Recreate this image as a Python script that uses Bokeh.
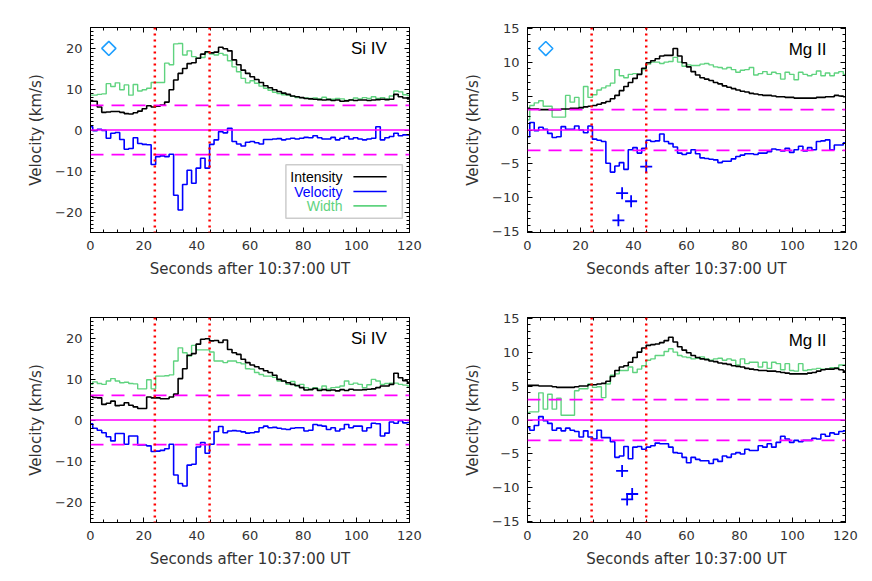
from bokeh.plotting import figure
from bokeh.layouts import gridplot
from bokeh.models import Span, Label, BoxAnnotation, LinearAxis, Range1d, FixedTicker
from bokeh.embed import file_html
from bokeh.resources import INLINE

# ---------------- data ----------------
t = [0.00, 1.69, 3.38, 5.07, 6.76, 8.45, 10.14, 11.83, 13.52, 15.21, 16.90, 18.59,
     20.28, 21.97, 23.66, 25.35, 27.04, 28.73, 30.42, 32.11, 33.80, 35.49, 37.18, 38.87,
     40.56, 42.25, 43.94, 45.63, 47.32, 49.01, 50.70, 52.39, 54.08, 55.77, 57.46, 59.15,
     60.85, 62.54, 64.23, 65.92, 67.61, 69.30, 70.99, 72.68, 74.37, 76.06, 77.75, 79.44,
     81.13, 82.82, 84.51, 86.20, 87.89, 89.58, 91.27, 92.96, 94.65, 96.34, 98.03, 99.72,
     101.41, 103.10, 104.79, 106.48, 108.17, 109.86, 111.55, 113.24, 114.93, 116.62, 118.31, 120.00]

# top-left: Si IV
si1_int = [7.2, 7.0, 5.6, 4.3, 4.4, 4.5, 4.5, 4.3, 4.0, 3.9, 4.2, 4.6, 5.2, 5.9, 5.6, 5.8, 6.1, 6.8,
           9.8, 12.2, 13.8, 15.0, 16.2, 16.4, 17.5, 18.5, 19.1, 18.8, 19.0, 20.2, 19.8, 19.3, 17.1, 15.9, 14.6, 13.8,
           13.0, 12.3, 11.6, 10.8, 10.3, 9.8, 9.4, 9.0, 8.7, 8.3, 8.1, 7.9, 7.7, 7.6, 7.5, 7.4, 7.3, 7.4,
           7.2, 7.3, 7.0, 7.1, 7.3, 7.2, 7.3, 7.3, 7.2, 7.3, 7.4, 7.5, 7.4, 7.5, 8.7, 8.1, 7.8, 7.6]
si1_vel = [0.8, -0.2, 0.2, -0.1, -2.0, -0.8, -0.6, -2.3, -4.7, -4.5, -1.9, -3.3, -3.5, -3.6, -8.4, -6.5, -6.3, -6.5,
           -5.9, -15.9, -19.5, -13.3, -9.8, -13.0, -9.3, -6.9, -9.3, -3.5, -2.4, -0.4, -0.7, 0.4, -2.8, -3.4, -3.9, -3.0,
           -2.8, -3.1, -3.4, -2.3, -2.3, -2.2, -2.1, -2.4, -2.2, -2.0, -2.2, -2.0, -1.8, -1.9, -1.4, -1.9, -2.2, -2.2,
           -1.8, -2.4, -2.0, -1.6, -2.2, -1.9, -2.2, -2.4, -2.2, -2.0, 0.8, -2.4, -1.9, -1.6, -0.8, -1.4, -1.2, -1.2]
si1_wid = [8.5, 8.5, 8.7, 8.8, 11.3, 10.6, 11.5, 9.8, 11.0, 8.5, 11.1, 9.5, 9.8, 10.2, 11.6, 11.6, 11.6, 16.3,
           15.9, 21.0, 21.1, 18.3, 19.3, 17.9, 17.5, 17.7, 18.9, 18.5, 18.3, 18.7, 18.3, 16.9, 15.4, 14.2, 12.6, 11.5,
           12.0, 11.4, 10.7, 10.2, 9.7, 9.2, 8.9, 8.6, 8.5, 8.2, 7.9, 7.9, 7.8, 7.7, 7.8, 7.6, 8.0, 7.6,
           7.5, 7.7, 7.6, 7.2, 7.4, 7.8, 7.6, 7.9, 7.7, 8.1, 7.7, 7.9, 7.6, 8.3, 9.5, 9.3, 8.6, 8.4]

# top-right: Mg II
mg1_int = [3.2, 3.1, 3.1, 3.0, 3.0, 3.0, 3.0, 3.0, 3.1, 3.1, 3.2, 3.2, 3.3, 3.4, 3.5, 3.6, 3.8, 4.0,
           4.2, 4.6, 5.1, 5.8, 6.4, 7.0, 7.6, 8.2, 9.1, 9.9, 10.2, 10.5, 10.9, 11.0, 11.0, 12.0, 10.9, 9.9,
           9.3, 8.6, 8.1, 7.7, 7.5, 7.3, 7.0, 6.8, 6.5, 6.3, 6.1, 5.9, 5.7, 5.6, 5.4, 5.3, 5.2, 5.1,
           5.1, 5.0, 4.9, 4.9, 4.8, 4.8, 4.7, 4.7, 4.7, 4.7, 4.7, 4.8, 4.8, 4.9, 4.9, 5.1, 5.0, 4.9]
mg1_vel = [-1.0, 1.1, -0.1, 0.4, 0.1, -0.5, -1.1, -1.0, 0.5, 0.1, 0.1, 0.6, 0.0, -0.4, 0.6, -1.35, -1.5, -1.7,
           -4.9, -6.2, -5.3, -4.8, -5.8, -2.9, -2.6, -3.4, -2.7, -1.5, -1.7, -1.6, -0.6, -1.7, -2.0, -2.5, -3.4, -3.6,
           -3.4, -2.9, -3.5, -4.1, -4.2, -4.3, -4.4, -4.8, -4.6, -4.6, -4.25, -3.9, -3.7, -3.5, -3.5, -3.6, -3.4, -3.4,
           -3.2, -2.8, -2.9, -3.1, -2.7, -3.3, -2.9, -2.4, -3.1, -2.6, -2.9, -1.7, -1.6, -1.45, -2.9, -2.2, -2.2, -1.9]
mg1_wid = [1.5, 3.6, 4.0, 4.3, 3.5, 3.5, 1.9, 1.9, 1.9, 5.1, 4.1, 4.8, 3.2, 6.4, 4.8, 5.2, 5.9, 6.2,
           6.5, 6.9, 8.9, 8.0, 7.7, 8.2, 8.3, 8.2, 8.9, 9.7, 10.0, 10.0, 9.8, 10.0, 10.1, 10.7, 10.0, 9.4,
           9.6, 9.5, 9.5, 9.7, 9.8, 9.6, 9.3, 9.2, 9.0, 9.2, 8.9, 8.5, 8.8, 8.9, 9.2, 8.1, 8.3, 8.6,
           8.2, 8.5, 8.3, 7.5, 8.5, 8.2, 7.4, 8.5, 8.2, 8.0, 8.2, 8.7, 8.0, 8.4, 8.0, 8.4, 8.6, 8.2]
mg1_plus_t = [34.3, 35.7, 39.1, 44.8]
mg1_plus_v = [-13.3, -9.3, -10.5, -5.4]

# bottom-left: Si IV
si2_int = [5.8, 5.5, 5.4, 3.8, 4.1, 4.6, 3.5, 3.6, 4.2, 3.6, 3.2, 2.8, 2.8, 5.6, 5.4, 5.4, 5.2, 5.2,
           5.6, 6.3, 10.1, 12.5, 15.8, 16.2, 18.5, 19.7, 19.8, 19.3, 19.4, 18.9, 19.5, 17.2, 16.4, 16.0, 14.8, 14.0,
           13.4, 13.0, 12.5, 12.0, 11.6, 10.9, 9.9, 9.5, 9.1, 8.7, 8.4, 7.9, 7.3, 7.4, 7.7, 7.2, 7.4, 7.2,
           7.3, 7.1, 7.4, 7.2, 7.5, 7.3, 7.3, 7.4, 7.5, 7.6, 7.9, 8.3, 8.3, 8.7, 11.4, 10.3, 9.6, 9.2]
si2_vel = [-0.9, -2.0, -2.5, -3.1, -4.1, -5.1, -3.3, -3.3, -5.9, -3.9, -3.9, -6.1, -6.1, -6.3, -7.7, -7.6, -7.4, -7.0,
           -5.9, -13.4, -15.5, -16.1, -11.0, -10.8, -6.6, -5.5, -8.1, -5.9, -2.8, -1.6, -3.1, -2.7, -2.6, -2.7, -2.9, -3.2,
           -3.1, -2.9, -1.9, -1.5, -1.9, -1.8, -2.0, -2.2, -2.3, -2.0, -1.9, -1.9, -2.7, -2.5, -1.1, -1.3, -1.5, -2.3,
           -1.9, -2.7, -2.2, -1.1, -1.9, -1.5, -1.5, -2.7, -1.9, -0.8, -0.9, -3.9, -3.2, -0.5, -0.8, -0.2, -0.7, -0.6]
si2_wid = [8.7, 9.3, 8.9, 8.7, 9.5, 10.1, 9.5, 9.1, 9.2, 8.9, 8.8, 7.6, 7.6, 9.8, 7.6, 10.7, 10.7, 10.8,
           11.0, 14.4, 17.6, 16.4, 15.6, 18.2, 17.1, 17.1, 17.1, 16.6, 14.4, 14.4, 14.0, 14.4, 14.4, 14.0, 13.7, 12.5,
           12.4, 11.6, 11.1, 10.7, 10.7, 10.4, 9.5, 9.5, 8.7, 9.4, 8.3, 8.7, 7.9, 7.5, 7.9, 7.5, 8.3, 7.5,
           7.9, 8.0, 8.3, 9.5, 8.7, 9.0, 8.7, 7.9, 8.6, 9.9, 9.5, 8.7, 8.9, 9.0, 9.0, 8.7, 8.5, 8.3]

# bottom-right: Mg II
mg2_int = [5.1, 5.1, 5.1, 5.0, 5.0, 5.0, 4.9, 4.8, 4.8, 4.8, 4.8, 4.9, 5.0, 5.0, 5.2, 5.2, 5.3, 5.4,
           5.7, 6.4, 7.3, 7.8, 8.0, 8.5, 9.2, 10.0, 10.6, 11.0, 11.1, 11.2, 11.4, 11.7, 12.2, 11.5, 10.8, 10.3,
           9.9, 9.5, 9.2, 9.0, 8.9, 8.7, 8.6, 8.4, 8.3, 8.2, 8.0, 7.9, 7.8, 7.6, 7.5, 7.4, 7.3, 7.3,
           7.2, 7.2, 7.1, 7.0, 6.9, 6.8, 6.8, 6.8, 6.8, 6.9, 7.0, 7.2, 7.4, 7.5, 7.5, 7.6, 7.4, 7.2]
mg2_vel = [-1.1, -1.5, -0.8, 0.5, -0.1, -0.5, -1.5, -1.2, -1.6, -1.2, -1.5, -1.7, -2.5, -1.6, -2.5, -2.8, -1.5, -2.6,
           -2.6, -3.2, -5.5, -5.3, -3.9, -5.7, -4.0, -3.9, -4.3, -4.0, -3.8, -3.4, -3.5, -3.5, -4.0, -4.8, -4.9, -5.5,
           -6.3, -5.5, -5.8, -6.0, -6.0, -6.4, -5.8, -6.1, -5.3, -5.5, -5.0, -4.8, -5.0, -4.3, -4.5, -4.5, -3.8, -4.0,
           -3.5, -4.0, -3.3, -2.4, -2.8, -3.3, -3.0, -3.2, -3.0, -3.0, -2.7, -2.8, -2.1, -2.4, -1.9, -2.1, -1.7, -1.6]
mg2_wid = [1.1, 1.2, 1.2, 4.0, 1.6, 3.8, 1.6, 3.2, 0.7, 0.7, 0.7, 4.3, 4.6, 4.6, 5.3, 4.8, 4.9, 3.3,
           5.3, 6.6, 6.8, 7.3, 7.3, 7.8, 7.0, 7.5, 8.0, 8.8, 9.0, 9.5, 9.5, 10.1, 10.5, 10.0, 9.5, 9.3,
           9.2, 9.0, 9.1, 9.3, 9.0, 8.8, 9.0, 9.1, 8.8, 9.0, 8.8, 8.1, 9.0, 8.3, 8.5, 8.5, 7.8, 8.5,
           7.6, 8.5, 8.3, 7.4, 8.3, 7.3, 7.2, 8.3, 7.3, 7.4, 7.5, 7.6, 7.5, 7.5, 7.7, 7.7, 8.1, 8.1]
mg2_plus_t = [35.7, 37.6, 39.5]
mg2_plus_v = [-7.5, -11.7, -10.9]

event_t = [24.2, 44.8]           # red dotted verticals
si_band = 6.0                     # dashed levels
mg_band = 3.0
marker_t, si_marker_v, mg_marker_v = 6.9, 19.9, 12.0

x_ticks = [0, 20, 40, 60, 80, 100, 120]
x_minor = list(range(0, 121, 5))
si_ticks = [-20, -10, 0, 10, 20]
si_minor = list(range(-25, 26, 1))
mg_ticks = [-15, -10, -5, 0, 5, 10, 15]
mg_minor = list(range(-15, 16, 1))

x_title = "Seconds after 10:37:00 UT"
y_title = "Velocity (km/s)"

# ---------------- style ----------------
FONT = "DejaVu Sans"
FONT2 = "Liberation Sans"
TXT = "#333333"
C_INT, C_VEL, C_WID = "#000000", "#0000ff", "#5fd37f"
MAG, RED, CYAN = "#ff00ff", "#ff0000", "#1e9fff"


def lab(tk):
    return ("\u2212" + str(abs(tk))) if tk < 0 else str(tk)


def style_axis(ax, ticks, minor, labels, title=None):
    ax.ticker = FixedTicker(ticks=ticks, minor_ticks=minor)
    ax.axis_line_color = "black"
    ax.axis_line_width = 1
    ax.major_tick_line_color = "black"
    ax.minor_tick_line_color = "black"
    ax.major_tick_in = 5
    ax.major_tick_out = 0
    ax.minor_tick_in = 3
    ax.minor_tick_out = 0
    if labels:
        ax.major_label_overrides = {tk: lab(tk) for tk in ticks}
        ax.major_label_text_font = FONT
        ax.major_label_text_font_size = "13px"
        ax.major_label_text_color = TXT
        ax.major_label_standoff = 8
    else:
        ax.major_label_overrides = {tk: "" for tk in ticks}
        ax.major_label_text_font_size = "1px"
        ax.major_label_standoff = 0
    if title:
        ax.axis_label = title
        ax.axis_label_text_font = FONT
        ax.axis_label_text_font_size = "15px"
        ax.axis_label_text_font_style = "normal"
        ax.axis_label_text_color = TXT
        ax.axis_label_standoff = 7


def panel(i_v, v_v, w_v, yr, yt, ym, band, title, title_x, title_y, fw, borders,
          marker_v=None, plus=None, legend=False):
    bl, br, bt, bb = borders
    p = figure(frame_width=fw, frame_height=205, x_range=Range1d(0, 120),
               y_range=Range1d(-yr, yr), output_backend="svg", toolbar_location=None,
               x_axis_location=None, y_axis_location=None,
               min_border_left=bl, min_border_right=br, min_border_top=bt, min_border_bottom=bb)
    p.xgrid.visible = False
    p.ygrid.visible = False
    p.outline_line_color = "black"
    p.background_fill_color = "white"
    p.border_fill_color = "white"

    xb = LinearAxis(); style_axis(xb, x_ticks, x_minor, True, x_title)
    xt = LinearAxis(); style_axis(xt, x_ticks, x_minor, False)
    yl = LinearAxis(); style_axis(yl, yt, ym, True, y_title)
    yrr = LinearAxis(); style_axis(yrr, yt, ym, False)
    p.add_layout(xb, "below")
    p.add_layout(xt, "above")
    p.add_layout(yl, "left")
    p.add_layout(yrr, "right")

    p.add_layout(Span(location=0, dimension="width", line_color=MAG, line_width=1.6))
    for lv in (band, -band):
        p.add_layout(Span(location=lv, dimension="width", line_color=MAG,
                          line_width=1.6, line_dash="13 8"))
    for et in event_t:
        p.add_layout(Span(location=et, dimension="height", line_color=RED,
                          line_width=2.5, line_dash="2 4"))

    p.step(t, w_v, mode="center", line_color=C_WID, line_width=1.4)
    p.step(t, i_v, mode="center", line_color=C_INT, line_width=1.6)
    p.step(t, v_v, mode="center", line_color=C_VEL, line_width=1.6)

    if plus is not None:
        p.scatter(plus[0], plus[1], marker="cross", size=12, line_color=C_VEL, line_width=1.8)
    if marker_v is not None:
        p.scatter([marker_t], [marker_v], marker="square", angle=0.785398, size=10,
                  fill_color=None, line_color=CYAN, line_width=1.6)

    p.add_layout(Label(x=title_x, y=title_y, text=title, text_align="right",
                       text_baseline="middle", text_font=FONT2, text_font_size="17px",
                       text_color="black"))

    if legend:
        p.add_layout(BoxAnnotation(left=73.5, right=117.3, top=-8.5, bottom=-21.5,
                                   fill_color=None, line_color="#555555", line_width=1.5))
        rows = [("Intensity", C_INT, -11.4), ("Velocity", C_VEL, -15.0), ("Width", C_WID, -18.5)]
        for name, col, yy in rows:
            p.add_layout(Label(x=94.8, y=yy, text=name, text_align="right",
                               text_baseline="middle", text_font=FONT2,
                               text_font_size="14px", text_color=col))
            p.line([98.9, 111.4], [yy, yy], line_color=col, line_width=1.6)
    return p


p1 = panel(si1_int, si1_vel, si1_wid, 25, si_ticks, si_minor, si_band, "Si IV", 111.5, 20.0,
           319, (90, 20, 27, 60), marker_v=si_marker_v, legend=True)
p2 = panel(mg1_int, mg1_vel, mg1_wid, 15.1, mg_ticks, mg_minor, mg_band, "Mg II", 112.8, 11.9,
           318, (98, 15, 27, 60), marker_v=mg_marker_v, plus=(mg1_plus_t, mg1_plus_v))
p3 = panel(si2_int, si2_vel, si2_wid, 25, si_ticks, si_minor, si_band, "Si IV", 111.5, 20.0,
           319, (90, 20, 25, 50))
p4 = panel(mg2_int, mg2_vel, mg2_wid, 15.1, mg_ticks, mg_minor, mg_band, "Mg II", 112.8, 11.7,
           318, (98, 15, 25, 50), plus=(mg2_plus_t, mg2_plus_v))

grid = gridplot([[p1, p2], [p3, p4]], toolbar_location=None)

with open("out.html", "w") as f:
    f.write(file_html(grid, INLINE))
